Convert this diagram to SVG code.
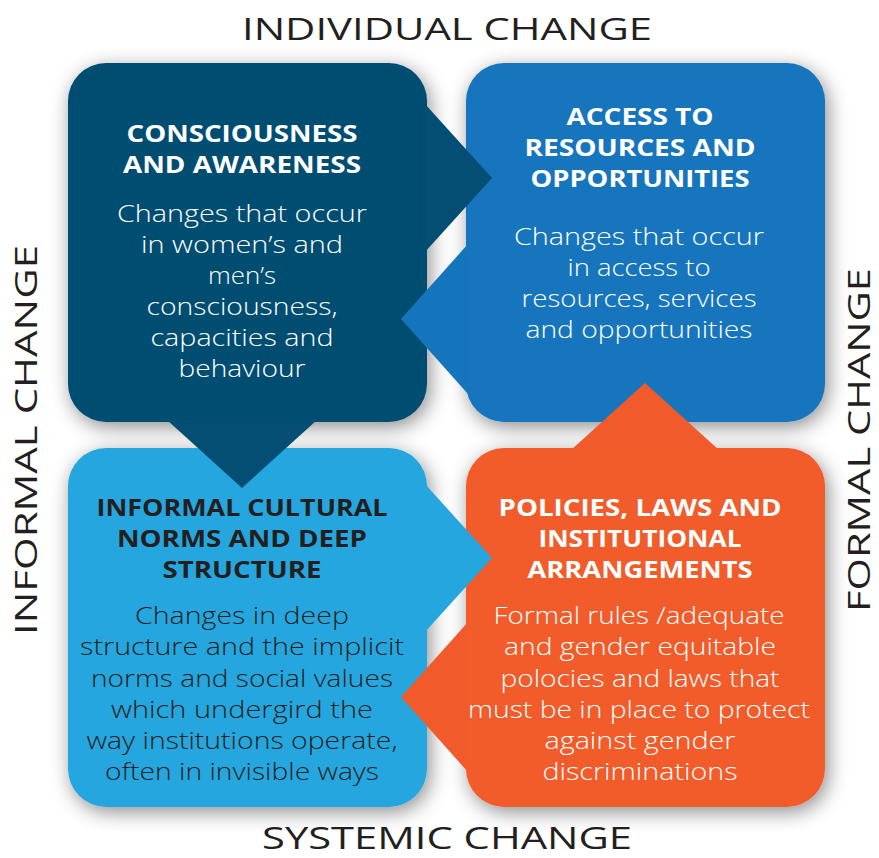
<svg xmlns="http://www.w3.org/2000/svg" width="879" height="858" viewBox="0 0 879 858">
  <style>
    .axis { font-family: "Open Sans", "Liberation Sans", sans-serif; font-size: 31px; font-weight: 400; fill: #231f20; text-anchor: middle; }
    .title { font-family: "Open Sans", "Liberation Sans", sans-serif; font-size: 23px; font-weight: 700; text-anchor: middle; }
    .body { font-family: "Open Sans", "Liberation Sans", sans-serif; font-size: 23px; font-weight: 300; text-anchor: middle; }
    .light { fill: #ffffff; }
    .dark { fill: #231f20; }
    .navy { fill: #034e72; }
    .blue { fill: #1575bc; }
    .sky { fill: #25a6df; }
    .orange { fill: #f15b2c; }
  </style>
  <defs>
    <filter id="shadow" x="-20%" y="-20%" width="145%" height="145%">
      <feDropShadow dx="3" dy="5" stdDeviation="10" flood-color="#000000" flood-opacity="0.45"/>
    </filter>
  </defs>

  <rect width="879" height="858" fill="#ffffff"/>

  <!-- axis captions -->
  <text class="axis" x="447" y="40" textLength="410" lengthAdjust="spacingAndGlyphs">INDIVIDUAL CHANGE</text>
  <text class="axis" x="447" y="849" textLength="370" lengthAdjust="spacingAndGlyphs">SYSTEMIC CHANGE</text>
  <text class="axis" transform="translate(37,440) rotate(-90)" textLength="390" lengthAdjust="spacingAndGlyphs">INFORMAL CHANGE</text>
  <text class="axis" transform="translate(870,440) rotate(-90)" textLength="344" lengthAdjust="spacingAndGlyphs">FORMAL CHANGE</text>

  <!-- quadrant boxes -->
  <g id="consciousness">
    <rect class="navy" x="68" y="63" width="359" height="359" rx="38" filter="url(#shadow)"/>
  </g>
  <g id="access">
    <rect class="blue" x="466" y="63" width="359" height="359" rx="38" filter="url(#shadow)"/>
  </g>
  <g id="informal-norms">
    <rect class="sky" x="68" y="448" width="359" height="359" rx="38" filter="url(#shadow)"/>
  </g>
  <g id="policies">
    <rect class="orange" x="466" y="448" width="359" height="359" rx="38" filter="url(#shadow)"/>
  </g>

  <!-- pointers between the quadrants -->
  <g id="connectors">
    <polygon class="navy" points="425,104 492,178 425,252"/>
    <polygon class="navy" points="167,420 317,420 242,488"/>
    <polygon class="blue" points="468,244 401,319 468,394"/>
    <polygon class="sky" points="425,484 492,558 425,632"/>
    <polygon class="orange" points="468,622 401,697 468,772"/>
    <polygon class="orange" points="571,450 719,450 645,383"/>
  </g>

  <!-- quadrant texts -->
  <g id="consciousness-text">
    <text class="title light" x="242" y="142" textLength="231" lengthAdjust="spacingAndGlyphs">CONSCIOUSNESS</text>
    <text class="title light" x="242" y="173" textLength="238" lengthAdjust="spacingAndGlyphs">AND AWARENESS</text>
    <text class="body light" x="242" y="222" textLength="250" lengthAdjust="spacingAndGlyphs">Changes that occur</text>
    <text class="body light" x="242" y="253" textLength="202" lengthAdjust="spacingAndGlyphs">in women’s and</text>
    <text class="body light" x="242" y="284" textLength="68" lengthAdjust="spacingAndGlyphs">men’s</text>
    <text class="body light" x="242" y="315" textLength="191" lengthAdjust="spacingAndGlyphs">consciousness,</text>
    <text class="body light" x="242" y="346" textLength="183" lengthAdjust="spacingAndGlyphs">capacities and</text>
    <text class="body light" x="242" y="377" textLength="127" lengthAdjust="spacingAndGlyphs">behaviour</text>
  </g>
  <g id="access-text">
    <text class="title light" x="640" y="125" textLength="147" lengthAdjust="spacingAndGlyphs">ACCESS TO</text>
    <text class="title light" x="640" y="156" textLength="231" lengthAdjust="spacingAndGlyphs">RESOURCES AND</text>
    <text class="title light" x="640" y="187" textLength="219" lengthAdjust="spacingAndGlyphs">OPPORTUNITIES</text>
    <text class="body light" x="639" y="245" textLength="250" lengthAdjust="spacingAndGlyphs">Changes that occur</text>
    <text class="body light" x="639" y="276" textLength="143" lengthAdjust="spacingAndGlyphs">in access to</text>
    <text class="body light" x="639" y="307" textLength="235" lengthAdjust="spacingAndGlyphs">resources, services</text>
    <text class="body light" x="639" y="338" textLength="227" lengthAdjust="spacingAndGlyphs">and opportunities</text>
  </g>
  <g id="informal-norms-text">
    <text class="title dark" x="242" y="516" textLength="291" lengthAdjust="spacingAndGlyphs">INFORMAL CULTURAL</text>
    <text class="title dark" x="242" y="547" textLength="250" lengthAdjust="spacingAndGlyphs">NORMS AND DEEP</text>
    <text class="title dark" x="242" y="578" textLength="159" lengthAdjust="spacingAndGlyphs">STRUCTURE</text>
    <text class="body dark" x="242" y="624" textLength="214" lengthAdjust="spacingAndGlyphs">Changes in deep</text>
    <text class="body dark" x="242" y="655" textLength="324" lengthAdjust="spacingAndGlyphs">structure and the implicit</text>
    <text class="body dark" x="242" y="687" textLength="302" lengthAdjust="spacingAndGlyphs">norms and social values</text>
    <text class="body dark" x="242" y="718" textLength="262" lengthAdjust="spacingAndGlyphs">which undergird the</text>
    <text class="body dark" x="242" y="749" textLength="311" lengthAdjust="spacingAndGlyphs">way institutions operate,</text>
    <text class="body dark" x="242" y="780" textLength="274" lengthAdjust="spacingAndGlyphs">often in invisible ways</text>
  </g>
  <g id="policies-text">
    <text class="title light" x="640" y="516" textLength="283" lengthAdjust="spacingAndGlyphs">POLICIES, LAWS AND</text>
    <text class="title light" x="640" y="547" textLength="203" lengthAdjust="spacingAndGlyphs">INSTITUTIONAL</text>
    <text class="title light" x="640" y="578" textLength="225" lengthAdjust="spacingAndGlyphs">ARRANGEMENTS</text>
    <text class="body light" x="639" y="624" textLength="291" lengthAdjust="spacingAndGlyphs">Formal rules /adequate</text>
    <text class="body light" x="640" y="655" textLength="272" lengthAdjust="spacingAndGlyphs">and gender equitable</text>
    <text class="body light" x="640" y="687" textLength="279" lengthAdjust="spacingAndGlyphs">polocies and laws that</text>
    <text class="body light" x="639" y="718" textLength="342" lengthAdjust="spacingAndGlyphs">must be in place to protect</text>
    <text class="body light" x="640" y="749" textLength="191" lengthAdjust="spacingAndGlyphs">against gender</text>
    <text class="body light" x="640" y="780" textLength="195" lengthAdjust="spacingAndGlyphs">discriminations</text>
  </g>
</svg>
